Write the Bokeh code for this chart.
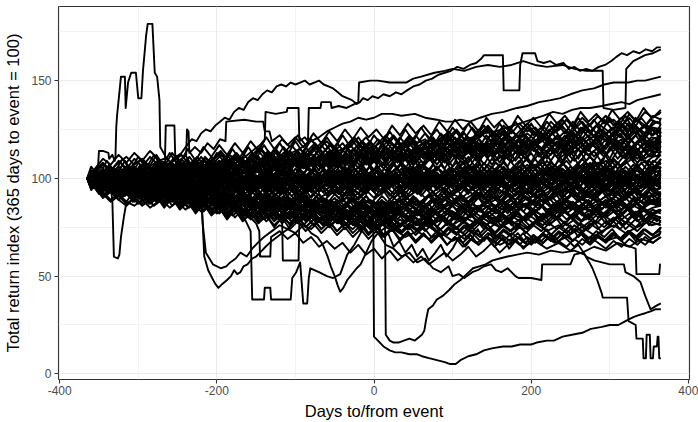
from bokeh.plotting import figure
from bokeh.models import Range1d, FixedTicker
from bokeh.embed import file_html
from bokeh.resources import INLINE

# x grids (days) for the bulk of the series, read every 10 days
band_days = list(range(-365, 366, 10))
band_days_b = [-365] + list(range(-360, 361, 10)) + [365]
band_days_c = [-365] + list(range(-357, 364, 10)) + [365]

x_ticks = [-400, -200, 0, 200, 400]
x_minor = [-300, -100, 100, 300]
y_ticks = [0, 50, 100, 150]
y_minor = [25, 75, 125, 175]

band_upper = [
    [100,105,110,107,112,108,113,109,114,110, 105,110,106,108,104,111,107,112,108,110, 106,113,109,114,110,116,111,115,112,117, 113,118,114,116,112,119,115,120,116,121, 117,122,118,120,116,123,119,124,120,126, 121,125,122,127,123,128,124,126,122,129, 125,130,126,131,127,132,128,130,126,133, 129,134,131,135],
    [100,104,108,104,109,105,110,106,111,107, 104,109,112,107,111,106,110,114,109,113, 108,112,116,111,115,110,113,109,114,118, 113,117,112,116,120,115,119,114,118,122, 117,121,116,119,115,120,124,119,123,118, 122,126,121,125,120,124,128,123,127,122, 126,130,125,129,124,128,132,127,131,126, 130,127,132,130],
    [100,103,107,104,108,111,107,110,106,109, 108,103,107,111,106,104,109,113,108,112, 107,111,115,110,108,113,117,112,110,115, 119,114,112,117,121,116,113,118,122,117, 115,120,118,123,119,116,121,125,120,118, 123,127,122,119,124,121,126,123,120,125, 129,124,121,126,123,128,125,122,127,131, 126,123,129,128],
    [100,98,103,100,97,102,106,101,99,104, 108,103,101,106,104,109,105,102,107,111, 106,104,109,113,108,105,110,107,112,116, 111,108,113,110,115,119,114,111,116,113, 118,115,112,117,121,116,113,118,115,120, 117,114,119,123,118,115,120,117,122,119, 116,121,125,120,117,122,119,124,121,118, 123,127,122,125],
    [100,102,99,104,100,97,101,105,102,98, 103,107,103,100,105,109,104,101,106,110, 105,102,107,104,109,113,108,105,110,107, 112,109,106,111,115,110,107,112,109,114, 111,108,113,117,112,109,114,111,116,113, 110,115,119,114,111,116,113,118,115,112, 117,121,116,113,118,115,120,117,114,119, 123,118,120,122],
    [100,97,101,98,102,105,100,103,99,102, 106,101,104,100,103,107,102,105,101,106, 109,104,107,103,108,111,106,109,105,110, 113,108,111,107,112,115,110,113,109,114, 110,113,117,112,115,111,116,119,114,117, 113,118,115,112,117,120,115,118,114,119, 116,113,118,121,116,119,115,120,117,114, 119,122,118,120],
    [100,101,104,99,102,98,103,100,104,101, 97,102,106,101,104,100,105,102,98,103, 107,102,105,101,106,103,108,105,101,106, 110,105,108,104,109,106,111,108,104,109, 113,108,111,107,112,109,114,111,107,112, 116,111,114,110,115,112,117,114,110,115, 119,114,117,113,118,115,112,117,120,115, 118,114,116,118],
    [100,99,102,97,100,103,99,104,101,98, 102,105,101,104,108,103,106,102,107,104, 100,105,109,104,107,103,108,111,106,109, 105,110,107,103,108,112,107,110,106,111, 108,104,109,113,108,111,107,112,109,105, 110,114,109,112,108,113,110,106,111,115, 110,113,109,114,111,107,112,116,111,114, 110,115,119,117],
]

band_middle = [
    [100,96,99,102,98,101,97,100,103,99, 102,98,103,100,96,101,104,100,103,99, 104,101,97,102,105,101,104,100,105,102, 98,103,107,102,105,101,106,103,99,104, 108,103,106,102,107,104,100,105,109,104, 107,103,108,105,101,106,110,105,108,104, 109,106,102,107,111,106,109,105,110,113, 108,112,116,115],
    [100,103,100,97,101,104,100,97,102,99, 95,100,103,99,102,98,94,99,102,98, 101,97,102,105,100,103,99,104,101,97, 102,106,101,104,100,105,102,98,103,107, 102,105,101,106,103,99,104,108,103,106, 102,107,104,100,105,109,104,107,103,108, 105,101,106,110,105,108,104,109,106,111, 115,110,114,113],
    [100,98,95,99,96,100,103,98,101,97, 100,96,99,103,98,101,97,102,99,95, 100,104,99,102,98,103,100,96,101,105, 100,103,99,104,101,97,102,106,101,104, 100,105,102,98,103,107,102,105,101,106, 103,99,104,108,103,106,102,107,104,100, 105,109,104,107,103,108,105,110,106,109, 113,108,111,112],
    [100,102,105,101,104,100,97,101,104,100, 103,99,96,100,104,99,102,98,101,105, 100,97,101,104,100,103,99,96,100,104, 99,102,98,101,105,100,103,99,96,101, 105,100,103,99,104,101,97,102,106,101, 104,100,105,102,98,103,107,102,105,101, 106,103,99,104,108,103,106,102,107,111, 106,109,105,110],
    [100,97,100,103,99,102,98,95,99,102, 98,101,97,94,98,102,97,100,96,99, 103,98,101,97,94,99,103,98,101,97, 100,104,99,102,98,95,100,104,99,102, 98,101,105,100,103,99,96,101,105,100, 103,99,102,106,101,104,100,97,102,106, 101,104,100,103,107,102,105,101,98,103, 107,102,105,108],
    [100,104,101,98,102,105,101,98,103,100, 97,101,104,100,97,102,99,103,100,96, 101,98,102,99,95,100,103,99,96,100, 104,99,102,98,101,105,100,97,102,99, 103,100,96,101,104,100,103,99,102,106, 101,98,103,100,104,101,97,102,105,101, 104,100,103,107,102,99,104,101,105,102, 106,103,109,107],
    [100,99,96,100,97,101,98,102,99,96, 100,97,93,98,101,97,100,96,99,95, 98,102,97,100,96,99,103,98,95,99, 96,100,104,99,96,100,97,101,98,102, 99,95,100,103,99,102,98,101,105,100, 97,101,98,102,99,103,100,96,101,104, 100,97,102,99,103,100,104,101,97,102, 105,101,104,106],
    [100,103,99,102,106,101,104,100,103,107, 102,99,103,100,104,101,97,102,105,100, 103,99,102,98,101,97,100,104,99,102, 98,101,97,100,96,99,103,98,101,97, 100,104,99,102,98,101,105,100,97,101, 98,102,99,95,100,103,99,102,98,101, 105,100,103,99,102,98,101,104,100,103, 99,102,106,105],
    [100,96,99,95,98,101,97,94,98,101, 97,100,96,99,102,98,95,99,102,98, 101,97,100,96,99,95,98,102,97,100, 96,99,103,98,101,97,100,104,99,102, 98,101,97,100,104,99,102,98,101,97, 100,104,99,102,98,101,105,100,103,99, 102,98,101,105,100,103,99,102,98,101, 104,100,103,104],
    [100,102,98,101,104,100,103,99,102,105, 101,98,102,105,100,103,99,96,100,103, 99,102,98,101,97,100,103,99,102,98, 95,99,102,98,101,97,100,96,99,102, 98,101,104,100,103,99,102,98,95,99, 102,98,101,104,100,103,99,102,98,101, 97,100,103,99,102,105,100,103,99,102, 98,101,104,103],
    [100,98,101,97,100,96,99,102,98,95, 99,96,100,97,94,98,95,99,96,100, 97,94,98,101,97,100,96,99,95,98, 102,97,100,96,99,103,98,101,97,100, 96,99,103,98,101,97,100,96,99,102, 98,101,97,100,104,99,102,98,101,97, 100,103,99,102,98,101,97,100,104,99, 102,98,101,102],
    [100,103,100,104,101,98,102,99,103,100, 104,101,97,101,98,102,99,95,99,102, 98,101,97,100,103,99,96,100,97,101, 104,99,102,98,101,97,100,104,99,96, 100,97,101,98,102,99,95,99,102,98, 101,97,100,96,99,103,98,101,97,100, 96,99,102,98,101,97,100,96,99,103, 98,101,97,101],
    [100,97,101,98,95,99,102,97,100,96, 99,103,98,101,97,94,98,101,97,100, 96,99,95,98,102,97,100,96,99,95, 98,101,97,100,96,93,97,100,96,99, 95,98,102,97,100,96,99,95,98,101, 97,100,96,99,95,98,102,97,100,96, 99,102,98,101,97,100,96,99,102,98, 101,97,99,100],
    [100,102,99,96,100,103,99,102,98,101, 97,100,96,99,103,98,101,97,100,96, 99,102,98,95,99,96,100,97,93,97, 100,96,99,95,98,101,97,100,96,99, 95,98,94,97,101,96,99,95,98,102, 97,100,96,99,95,98,101,97,100,96, 99,95,98,102,97,100,96,99,95,98, 101,97,100,99],
]

band_lower = [
    [100,96,99,95,98,94,97,100,96,93, 97,100,96,99,95,92,96,99,95,98, 94,97,93,96,100,95,98,94,97,93, 96,99,95,98,94,91,95,98,94,97, 93,96,100,95,98,94,97,93,96,99, 95,98,94,97,93,96,100,95,98,94, 97,93,96,100,95,98,94,97,101,96, 99,95,97,98],
    [100,98,94,97,100,96,99,95,92,96, 99,95,98,94,91,95,98,94,97,93, 90,94,97,93,96,92,95,91,94,98, 93,96,92,95,91,94,98,93,96,92, 95,91,94,97,93,96,92,95,99,94, 97,93,96,92,95,98,94,97,93,96, 92,95,99,94,97,93,96,92,95,98, 94,97,93,96],
    [100,103,99,96,100,97,94,98,101,97, 94,98,95,92,96,99,95,92,96,93, 97,93,90,94,97,93,96,92,89,93, 96,92,95,91,88,92,95,91,94,90, 93,97,92,95,91,94,90,93,96,92, 95,91,94,97,93,96,92,95,98,94, 97,93,96,92,95,98,94,97,93,96, 92,95,98,95],
    [100,97,100,96,93,97,100,96,93,97, 94,90,94,97,93,96,92,89,93,96, 92,95,91,88,92,95,91,94,90,87, 91,94,90,93,89,92,95,91,94,90, 87,91,94,90,93,89,92,88,91,95, 90,93,89,92,96,91,94,90,93,89, 92,95,91,94,90,93,97,92,95,91, 94,90,92,93],
    [100,98,95,99,96,93,97,94,91,95, 98,94,91,95,92,88,92,95,91,88, 92,89,85,89,92,88,85,89,86,82, 86,89,85,82,86,89,85,88,84,87, 91,86,89,85,88,92,87,90,86,89, 93,88,91,87,90,94,89,92,88,91, 95,90,93,89,92,96,91,94,90,93, 89,92,95,92],
    [100,101,97,100,96,99,95,98,94,97, 93,96,92,95,98,94,97,93,90,94, 97,93,96,92,89,93,96,92,95,91, 88,92,95,91,94,90,87,91,94,90, 93,89,86,90,93,89,92,88,85,89, 92,88,91,87,90,93,89,92,88,91, 87,90,93,89,92,88,91,87,90,93, 89,92,88,90],
    [100,97,94,98,95,92,96,93,90,94, 91,88,92,95,91,88,92,89,86,90, 87,84,88,91,87,84,88,85,82,86, 89,85,82,86,83,87,84,81,85,88, 84,87,83,86,90,85,88,84,87,83, 86,89,85,88,84,87,90,86,89,85, 88,84,87,90,86,89,85,88,84,87, 90,86,89,88],
    [100,99,96,100,97,94,98,95,99,96, 93,97,94,91,95,92,96,93,90,94, 91,88,92,89,86,90,87,91,88,85, 89,86,83,87,84,88,85,82,86,83, 87,84,81,85,82,86,83,80,84,87, 83,86,82,85,89,84,87,83,86,82, 85,88,84,87,83,86,89,85,88,84, 87,83,85,86],
    [100,97,99,95,92,96,93,97,94,91, 95,92,89,93,90,94,91,88,92,89, 86,90,87,84,88,85,89,86,83,87, 84,81,85,82,86,83,80,84,81,85, 82,79,83,80,84,81,78,82,85,81, 84,80,83,87,82,85,81,84,80,83, 86,82,85,81,84,80,83,86,82,85, 81,84,82,84],
    [100,103,99,102,98,95,99,96,93,97, 94,91,95,92,89,93,90,87,91,88, 92,89,86,90,87,84,88,85,82,86, 83,87,84,81,85,82,79,83,80,84, 81,78,82,79,83,80,77,81,78,82, 79,83,80,77,81,78,82,79,76,80, 83,79,82,78,81,85,80,83,79,82, 78,81,84,82],
    [100,95,90,93,89,86,90,87,91,88, 88,92,89,85,89,86,82,86,83,87, 84,80,84,81,85,82,78,82,79,83, 80,76,80,77,81,78,74,78,75,79, 76,80,77,73,77,74,78,75,71,75, 78,74,77,81,76,79,75,78,82,77, 80,76,79,75,78,82,77,80,76,79, 83,78,81,80],
    [100,99,95,98,94,97,93,90,94,91, 95,92,88,92,89,93,90,86,90,87, 91,88,84,88,85,89,86,82,86,83, 87,84,80,84,81,85,82,78,82,79, 83,80,76,80,77,81,78,74,78,75, 79,76,72,76,73,77,74,78,75,71, 75,72,76,73,77,74,78,75,79,76, 73,77,80,78],
    [100,95,91,94,89,92,88,91,87,90, 92,89,86,90,87,91,88,84,88,85, 81,85,82,86,83,79,83,80,84,81, 77,81,78,82,79,75,79,76,80,77, 73,77,74,78,75,71,75,72,76,73, 77,74,70,74,71,75,72,68,72,69, 73,70,74,71,67,71,68,72,69,73, 70,74,71,75],
    [100,96,92,88,91,87,90,86,89,92, 93,89,93,90,86,90,87,83,87,84, 88,85,81,85,82,78,82,79,83,80, 76,80,77,81,78,74,78,75,79,76, 72,76,73,77,74,70,74,71,75,72, 68,72,69,73,70,66,70,67,71,68, 72,69,65,69,66,70,67,71,68,72, 69,66,70,72],
    [100,97,93,89,92,88,86,89,85,88, 92,96,93,90,94,91,88,92,89,86, 90,87,84,88,85,82,86,83,80,84, 81,78,82,79,76,80,77,74,78,75, 72,76,73,77,74,71,75,72,69,73, 70,74,71,68,72,69,66,70,67,71, 68,65,69,66,70,67,64,68,65,69, 66,70,67,70],
]

# second set of bulk series, read on days -365, -360, -350, ..., 360, 365
band_core_a = [
    [100, 106,101,109,103,110,104,111,105,112,106, 113,107,112,105,111,106,113,108,115,109, 116,110,117,111,118,112,119,113,120,114, 121,115,122,116,121,115,122,117,124,118, 125,119,126,120,125,119,126,121,128,122, 127,121,128,122,129,123,128,122,129,124, 130,124,131,125,130,124,131,126,132,125, 131,126,129,128],
    [100, 95,102,97,104,99,106,100,107,101,108, 102,109,103,108,102,109,104,110,105,111, 106,112,107,113,108,114,109,113,108,115, 110,116,111,117,112,116,111,117,113,118, 114,119,115,120,116,121,115,120,116,122, 117,123,118,122,117,123,119,124,120,125, 119,124,120,126,121,125,120,126,122,127, 121,126,123,124],
    [100, 104,99,106,101,107,100,105,99,106,101, 108,102,107,100,106,101,108,103,109,102, 108,103,110,104,109,103,111,105,110,104, 112,106,111,105,113,107,112,106,114,108, 113,107,115,109,114,108,116,110,115,109, 117,111,116,110,118,112,117,111,119,113, 118,112,120,114,119,113,121,115,120,114, 122,116,120,121],
    [100, 97,103,98,105,99,104,98,106,100,105, 99,106,100,107,101,106,100,107,102,108, 101,107,102,109,103,108,102,110,104,109, 103,110,104,111,105,110,104,112,106,111, 105,112,106,113,107,112,106,114,108,113, 107,114,108,115,109,114,108,116,110,115, 109,116,110,117,111,116,110,118,112,117, 113,119,114,119],
    [100, 103,97,104,98,103,96,102,97,104,99, 105,98,104,99,106,100,105,99,107,101, 106,100,105,99,107,101,108,102,107,101, 109,103,108,102,110,104,109,103,111,105, 110,104,109,103,111,105,112,106,111,105, 113,107,112,106,114,108,113,107,112,106, 114,108,115,109,114,108,116,110,115,109, 117,111,114,116],
    [100, 96,102,95,101,97,103,96,102,98,104, 97,103,99,105,98,104,100,106,99,105, 101,107,100,106,102,108,101,107,103,109, 102,108,101,107,103,109,102,108,104,110, 103,109,105,111,104,110,103,109,105,111, 104,110,106,112,105,111,107,113,106,112, 108,114,107,113,109,115,108,114,110,116, 109,115,111,114],
    [100, 102,97,103,98,101,95,100,96,102,97, 103,98,102,96,101,97,103,98,104,99, 103,97,102,98,104,99,105,100,104,98, 103,99,105,100,106,101,105,99,104,100, 106,101,107,102,106,100,105,101,107,102, 108,103,107,101,106,102,108,103,109,104, 108,102,107,103,109,104,110,105,109,104, 111,106,110,112],
    [100, 95,101,96,100,94,99,95,101,96,102, 97,101,95,100,96,102,97,103,98,102, 96,101,97,103,98,104,99,103,97,102, 98,104,99,105,100,104,98,103,99,105, 100,106,101,105,99,104,100,106,101,107, 102,106,100,105,101,107,102,108,103,107, 101,106,102,108,103,109,104,108,102,107, 103,109,105,110],
    [100, 104,98,103,97,102,96,101,97,103,98, 102,96,101,95,100,96,102,97,101,95, 100,96,102,97,103,98,102,96,101,97, 103,98,104,99,103,97,102,98,104,99, 105,100,104,98,103,99,105,100,106,101, 105,99,104,100,106,101,107,102,106,100, 105,101,107,102,108,103,107,101,106,102, 108,103,106,108],
    [100, 97,102,96,101,95,100,94,99,95,101, 96,100,94,99,95,101,96,102,97,101, 95,100,96,102,97,101,95,100,96,102, 97,103,98,102,96,101,97,103,98,102, 96,101,97,103,98,104,99,103,97,102, 98,104,99,103,97,102,98,104,99,105, 100,104,98,103,99,105,100,104,98,103, 100,106,101,106],
    [100, 103,97,102,96,101,97,103,98,102,96, 101,95,100,96,102,97,101,95,100,94, 99,95,101,96,100,94,99,95,101,96, 102,97,101,95,100,96,102,97,103,98, 102,96,101,97,103,98,102,96,101,97, 103,98,104,99,103,97,102,98,104,99, 103,97,102,98,104,99,105,100,104,99, 103,100,106,105],
    [100, 96,101,95,100,96,102,97,101,95,100, 94,99,95,101,96,100,94,99,93,98, 94,100,95,99,93,98,94,100,95,101, 96,100,94,99,95,101,96,102,97,101, 95,100,96,102,97,101,95,100,96,102, 97,103,98,102,96,101,97,103,98,102, 96,101,97,103,98,104,99,103,97,102, 99,105,101,104],
]

band_core_b = [
    [100, 102,96,101,95,100,94,99,95,101,96, 100,94,99,95,101,96,100,94,99,93, 98,94,100,95,99,93,98,94,100,95, 101,96,100,94,99,95,101,96,102,97, 101,95,100,96,102,97,101,95,100,96, 102,97,101,95,100,96,102,97,103,98, 102,96,101,97,103,98,102,96,101,97, 103,98,101,103],
    [100, 97,103,98,102,96,101,95,100,96,102, 97,101,95,100,94,99,95,101,96,100, 94,99,93,98,94,100,95,99,93,98, 94,100,95,101,96,100,94,99,95,101, 96,100,94,99,95,101,96,102,97,101, 95,100,96,102,97,101,95,100,96,102, 97,101,95,100,96,102,97,103,98,102, 97,101,99,102],
    [100, 104,99,103,97,102,96,101,97,103,98, 102,96,101,95,100,94,99,95,101,96, 100,94,99,93,98,94,100,95,99,93, 98,92,97,93,99,94,98,92,97,93, 99,94,100,95,99,93,98,94,100,95, 101,96,100,94,99,95,101,96,100,94, 99,95,101,96,102,97,101,95,100,96, 101,97,99,100],
    [100, 96,101,95,99,93,98,94,100,95,99, 93,98,94,100,95,99,93,98,92,97, 93,99,94,98,92,97,93,99,94,98, 92,97,91,96,92,98,93,97,91,96, 92,98,93,99,94,98,92,97,93,99, 94,98,92,97,93,99,94,100,95,99, 93,98,94,100,95,99,93,98,94,100, 95,99,96,98],
    [100, 103,98,102,96,101,95,100,94,99,95, 100,94,99,93,98,94,99,93,97,92, 97,93,98,92,96,91,96,92,97,93, 98,92,97,91,96,92,97,93,98,92, 97,93,98,94,99,93,98,92,97,93, 98,94,99,93,98,92,97,93,99,94, 98,92,97,93,98,94,99,93,98,94, 99,95,97,97],
    [100, 95,100,94,98,92,97,93,98,92,96, 91,96,92,97,91,95,90,95,91,96, 90,95,91,96,92,97,91,96,90,95, 91,96,90,95,89,94,90,95,89,94, 90,95,91,96,90,95,91,96,92,97, 91,96,90,95,91,96,92,97,91,96, 92,97,91,96,92,97,93,98,92,97, 93,98,94,95],
    [100, 97,102,96,100,94,99,93,97,92,96, 91,96,90,95,91,96,90,94,89,94, 90,95,89,93,88,93,89,94,88,92, 87,92,88,93,87,91,86,91,87,92, 86,91,87,92,88,93,87,92,88,93, 89,94,88,93,89,94,90,95,89,94, 90,95,89,94,90,95,91,96,90,95, 91,95,92,93],
    [100, 94,99,93,97,91,96,92,97,91,95, 90,95,89,94,90,95,89,93,88,93, 87,92,88,93,87,91,86,91,87,92, 86,90,85,90,86,91,85,89,84,89, 85,90,86,91,85,90,86,91,87,92, 86,91,87,92,86,91,87,92,88,93, 87,92,88,93,89,94,88,93,89,94, 88,93,90,91],
    [100, 98,92,97,91,96,90,95,89,94,90, 95,89,93,88,93,87,92,88,93,87, 91,86,91,85,90,86,91,85,89,84, 89,85,90,84,88,83,88,84,89,83, 87,82,87,83,88,82,86,81,86,82, 87,83,88,82,87,83,88,84,89,83, 88,84,89,85,90,84,89,85,90,86, 91,87,88,89],
    [100, 95,100,93,98,92,96,90,95,89,94, 88,93,89,94,88,92,87,92,86,91, 87,92,86,90,85,90,84,89,85,90, 84,88,83,88,82,87,83,88,82,86, 81,86,82,87,81,85,80,85,81,86, 82,87,81,86,82,87,83,88,82,87, 83,88,84,89,83,88,84,89,85,90, 84,89,86,87],
    [100, 97,93,98,91,96,90,94,89,93,88, 92,87,92,86,91,85,90,86,91,85, 89,84,88,83,88,82,87,83,88,82, 86,81,85,80,85,81,86,80,84,79, 84,80,85,79,83,78,83,79,84,78, 82,77,82,78,83,79,84,78,83,79, 84,80,85,79,84,80,85,81,86,80, 85,81,83,84],
    [100, 96,101,94,99,92,97,91,95,89,94, 88,92,87,91,86,90,85,89,84,88, 83,88,82,87,81,86,80,85,81,86, 80,84,79,84,78,83,77,82,78,83, 77,81,76,81,75,80,76,81,75,79, 74,79,75,80,74,79,75,80,76,81, 75,80,76,81,77,82,76,81,77,82, 76,81,78,80],
]

# third set of bulk series, read on days -365, -357, -347, ..., 363, 365
band_edge_high = [
    [100, 104,99,107,102,109,103,110,105,112,106, 113,108,115,109,116,111,117,112,118,113, 119,114,121,115,120,116,122,117,123,118, 124,119,125,120,126,121,125,120,127,122, 128,123,127,122,129,124,130,125,129,124, 131,126,130,125,132,127,131,126,133,128, 132,127,134,129,133,128,135,130,134,129, 136,131,133,134],
    [100, 97,103,99,105,100,107,102,106,101,108, 103,109,104,110,105,111,106,112,107,113, 108,114,109,115,110,114,109,116,111,117, 112,118,113,119,114,118,113,120,115,121, 116,122,117,121,116,123,118,124,119,125, 120,124,119,126,121,127,122,126,121,128, 123,129,124,128,123,130,125,129,124,131, 126,130,128,131],
    [100, 103,98,105,100,104,99,106,101,108,102, 107,103,109,104,110,105,109,104,111,106, 112,107,113,108,112,107,114,109,115,110, 114,109,116,111,117,112,116,111,118,113, 119,114,118,113,120,115,121,116,120,115, 122,117,123,118,122,117,124,119,125,120, 124,119,126,121,127,122,126,121,128,123, 127,122,126,128],
    [100, 98,104,99,103,97,105,100,106,101,107, 102,106,101,108,103,109,104,108,103,110, 105,111,106,110,105,112,107,113,108,112, 107,114,109,115,110,114,109,116,111,117, 112,116,111,118,113,119,114,118,113,120, 115,121,116,120,115,122,117,123,118,122, 117,124,119,125,120,124,119,126,121,127, 122,125,124,126],
    [100, 102,106,101,105,99,104,100,107,102,106, 101,108,103,107,102,109,104,110,105,109, 104,111,106,110,105,112,107,113,108,112, 107,114,109,113,108,115,110,116,111,115, 110,117,112,116,111,118,113,119,114,118, 113,120,115,119,114,121,116,122,117,121, 116,123,118,122,117,124,119,125,120,124, 119,126,121,124],
    [100, 96,101,97,103,98,104,99,103,98,105, 100,106,101,105,100,107,102,108,103,107, 102,109,104,108,103,110,105,111,106,110, 105,112,107,111,106,113,108,114,109,113, 108,115,110,114,109,116,111,117,112,116, 111,118,113,117,112,119,114,120,115,119, 114,121,116,120,115,122,117,123,118,122, 117,121,120,122],
    [100, 103,99,104,100,106,101,105,100,107,102, 106,101,108,103,107,102,109,104,108,103, 110,105,109,104,111,106,110,105,112,107, 111,106,113,108,112,107,114,109,113,108, 115,110,114,109,116,111,115,110,117,112, 116,111,118,113,117,112,119,114,118,113, 120,115,119,114,121,116,120,115,122,117, 121,116,119,120],
    [100, 99,95,101,97,102,98,103,99,104,100, 105,101,106,102,105,101,107,103,108,104, 107,103,109,105,110,106,109,105,111,107, 112,108,111,107,113,109,114,110,113,109, 115,111,116,112,115,111,117,113,118,114, 117,113,119,115,120,116,119,115,121,117, 122,118,121,117,120,116,122,118,121,117, 120,116,119,118],
    [100, 104,100,106,102,105,101,107,103,106,102, 108,104,107,103,109,105,108,104,110,106, 109,105,111,107,110,106,112,108,111,107, 113,109,112,108,114,110,113,109,115,111, 114,110,116,112,115,111,117,113,116,112, 118,114,117,113,119,115,118,114,120,116, 119,115,118,114,120,116,119,115,117,113, 118,114,117,116],
    [100, 102,98,104,100,103,99,105,101,104,100, 106,102,105,101,107,103,106,102,108,104, 107,103,109,105,108,104,110,106,109,105, 111,107,110,106,112,108,111,107,113,109, 112,108,114,110,113,109,115,111,114,110, 116,112,115,111,114,110,116,112,115,111, 117,113,116,112,115,111,117,113,116,112, 114,111,115,113],
]

band_edge_low = [
    [100, 97,101,95,99,94,98,93,97,92,96, 91,95,90,94,89,93,88,92,89,93, 88,92,87,91,86,90,87,91,86,90, 85,89,86,90,85,89,84,88,85,89, 86,90,85,89,86,90,87,91,86,90, 87,91,88,92,87,91,88,92,89,93, 88,92,89,93,90,94,89,93,90,94, 91,95,91,92],
    [100, 98,94,99,93,97,92,96,91,95,90, 94,89,93,88,92,87,91,86,90,87, 91,86,90,85,89,84,88,85,89,84, 88,83,87,84,88,83,87,82,86,83, 87,84,88,83,87,84,88,85,89,84, 88,85,89,86,90,85,89,86,90,85, 89,86,90,87,91,86,90,87,91,88, 92,88,90,89],
    [100, 96,100,94,98,92,96,91,95,89,93, 88,92,87,91,85,89,84,88,83,87, 82,86,83,87,82,86,81,85,82,86, 81,85,80,84,81,85,80,84,79,83, 80,84,81,85,80,84,81,85,82,86, 81,85,82,86,83,87,82,86,83,87, 84,88,83,87,84,88,85,89,84,88, 85,89,87,86],
    [100, 99,95,98,93,97,91,95,90,94,88, 92,87,91,85,89,84,88,82,86,81, 85,80,84,81,85,79,83,78,82,79, 83,78,82,77,81,78,82,77,81,76, 80,77,81,76,80,77,81,78,82,77, 81,78,82,79,83,78,82,79,83,80, 84,79,83,80,84,81,85,80,84,81, 85,82,84,83],
    [100, 95,99,93,97,91,95,89,93,88,92, 86,90,85,89,83,87,82,86,80,84, 79,83,78,82,77,81,78,82,76,80, 75,79,76,80,74,78,75,79,73,77, 74,78,75,79,73,77,74,78,75,79, 76,80,75,79,76,80,77,81,76,80, 77,81,78,82,77,81,78,82,79,83, 78,82,80,80],
    [100, 97,93,96,91,95,89,93,88,91,86, 90,85,88,83,87,82,85,80,84,79, 82,78,81,76,80,77,81,75,79,74, 78,73,77,74,78,72,76,71,75,72, 76,71,75,70,74,71,75,72,76,71, 75,72,76,73,77,72,76,73,77,74, 78,73,77,74,78,75,79,74,78,75, 79,76,77,78],
    [100, 96,92,97,90,95,88,93,87,91,85, 90,84,88,82,87,81,85,79,84,78, 82,77,81,75,80,74,78,73,77,72, 76,71,75,70,74,69,73,70,74,68, 72,67,71,68,72,66,70,67,71,66, 70,67,71,68,72,67,71,68,72,69, 73,68,72,69,73,70,74,69,73,70, 74,71,73,75],
    [100, 98,94,97,92,96,90,94,89,93,87, 91,86,90,84,88,83,87,81,85,80, 84,79,83,78,82,76,80,75,79,74, 78,73,77,72,76,71,75,70,74,69, 73,68,72,67,71,66,70,65,69,66, 70,65,69,66,70,67,71,66,70,67, 71,68,72,67,71,68,72,69,73,68, 72,69,71,73],
    [100, 97,101,96,99,94,98,92,96,91,95, 90,93,88,92,86,90,85,89,83,87, 82,86,80,84,79,83,77,81,76,80, 75,79,74,78,73,77,74,78,75,79, 76,80,77,81,78,82,79,83,80,84, 81,85,82,86,83,87,82,86,83,87, 84,88,85,89,84,88,85,89,86,90, 87,91,87,88],
    [100, 102,97,100,95,99,93,97,92,96,90, 94,89,93,87,91,86,90,84,88,83, 87,82,86,81,85,80,84,79,83,78, 82,77,81,76,80,77,81,76,80,75, 79,76,80,77,81,76,80,77,81,78, 82,77,81,78,82,79,83,78,82,79, 83,80,84,79,83,80,84,81,85,80, 84,81,83,84],
]

# individual series as (day, value) pairs
spike_line = [(-365,100),(-360,104),(-355,102),(-351,107),(-350,114),(-345,114),(-338,113),(-337,110),(-333,112),(-330,109),(-329,111),(-328,126),(-327,132),(-322,152),(-317,152),(-316,136),(-313,149),(-309,154),(-303,154),(-300,141),(-296,141),(-294,155),(-290,173),(-288,179),(-282,179),(-279,154),(-276,152),(-273,140),(-272,116),(-265,111),(-255,106),(-245,110),(-235,105),(-225,109),(-215,104),(-205,108),(-195,103),(-185,107),(-175,111),(-165,106),(-155,110),(-145,105),(-135,109),(-125,113),(-115,108),(-105,112),(-95,107),(-85,111),(-75,106),(-65,110),(-55,114),(-45,109),(-35,113),(-25,108),(-15,112),(-5,116),(5,111),(15,115),(25,110),(35,114),(45,118),(55,113),(65,117),(75,112),(85,116),(95,120),(105,115),(115,119),(125,114),(135,118),(145,113),(155,117),(165,121),(175,116),(185,120),(195,115),(205,119),(215,123),(225,118),(235,122),(245,117),(255,121),(265,125),(275,120),(285,124),(295,119),(305,123),(315,127),(325,122),(335,126),(345,121),(355,125),(365,123)]

box_line = [(-365,100),(-355,103),(-345,99),(-335,104),(-325,101),(-315,106),(-305,102),(-295,107),(-285,104),(-275,109),(-266,110),(-265,127),(-254,127),(-253,112),(-247,109),(-239,112),(-238,125),(-236,124),(-235,113),(-228,116),(-220,113),(-212,118),(-204,115),(-196,120),(-189,119),(-188,129),(-165,130),(-150,129),(-141,129),(-139,124),(-133,124),(-130,119),(-120,122),(-110,117),(-100,121),(-90,116),(-80,120),(-70,115),(-60,119),(-50,114),(-40,118),(-30,113),(-20,117),(-10,121),(0,116),(15,120),(30,115),(45,119),(60,114),(75,118),(90,122),(105,117),(120,121),(135,116),(150,120),(165,124),(180,119),(195,123),(210,118),(225,122),(240,126),(255,121),(270,125),(285,120),(300,124),(315,128),(330,123),(345,127),(365,125)]

step_high_line = [(-365,100),(-350,98),(-335,102),(-320,99),(-305,104),(-290,101),(-275,106),(-260,103),(-245,108),(-230,105),(-215,110),(-200,107),(-185,112),(-170,109),(-155,114),(-145,117),(-139,120),(-138,134),(-125,133),(-111,134),(-110,136),(-96,136),(-95,119),(-88,121),(-84,119),(-83,136),(-68,136),(-67,139),(-55,139),(-54,136),(-45,137),(-35,136),(-25,138),(-20,139),(-19,149),(-5,150),(5,150),(20,149),(41,149),(50,151),(60,152),(77,154),(90,155),(100,156),(115,155),(130,157),(145,158),(160,157),(175,158),(190,160),(205,158),(220,157),(240,158),(255,156),(270,155),(291,155),(292,136),(305,135),(320,136),(321,156),(330,160),(345,163),(355,164),(365,166)]

top_line = [(-365,100),(-355,102),(-345,99),(-335,104),(-325,101),(-315,105),(-305,102),(-295,107),(-285,104),(-275,108),(-265,106),(-255,110),(-245,113),(-238,117),(-232,120),(-226,119),(-220,123),(-214,125),(-208,124),(-202,127),(-196,129),(-190,131),(-184,130),(-178,134),(-172,136),(-166,135),(-160,139),(-154,141),(-148,140),(-142,143),(-136,145),(-130,144),(-124,147),(-118,148),(-112,147),(-106,149),(-100,148),(-94,149),(-88,150),(-82,148),(-76,149),(-70,150),(-64,148),(-58,147),(-52,146),(-46,144),(-40,142),(-34,141),(-28,140),(-22,138),(-18,139),(-14,141),(-8,140),(-2,142),(5,141),(12,143),(20,142),(28,144),(35,143),(42,145),(50,147),(58,148),(66,150),(74,151),(82,153),(90,154),(98,155),(106,157),(114,156),(122,158),(130,159),(136,161),(140,163),(164,163),(165,145),(185,145),(186,158),(189,164),(205,164),(208,160),(216,159),(224,160),(232,158),(241,159),(248,156),(255,157),(262,155),(270,156),(278,155),(286,157),(294,158),(302,160),(308,162),(315,164),(322,163),(330,165),(338,164),(346,166),(354,165),(360,167),(365,167)]

second_line = [(-365,100),(-350,97),(-335,101),(-320,98),(-305,102),(-290,99),(-275,103),(-260,100),(-245,104),(-230,101),(-215,105),(-200,102),(-185,106),(-170,103),(-155,107),(-140,110),(-125,107),(-110,112),(-95,115),(-80,119),(-70,121),(-60,124),(-50,126),(-40,128),(-30,129),(-20,131),(-10,130),(0,131),(10,133),(23,133),(35,132),(52,133),(65,131),(80,130),(91,129),(100,129),(110,130),(122,129),(135,131),(150,133),(165,134),(182,136),(195,137),(210,139),(225,140),(237,141),(250,143),(265,145),(280,146),(293,148),(305,149),(315,149),(324,149),(335,150),(345,150),(355,151),(365,152)]

third_line = [(-365,100),(-345,104),(-325,100),(-305,105),(-285,101),(-265,106),(-245,102),(-225,107),(-205,103),(-185,108),(-165,104),(-145,109),(-125,105),(-105,110),(-85,106),(-65,111),(-45,107),(-25,112),(-5,108),(15,113),(35,109),(55,114),(75,111),(95,116),(110,119),(125,121),(140,123),(155,124),(170,126),(185,128),(200,130),(215,132),(228,134),(240,133),(252,135),(263,136),(275,136),(290,137),(302,138),(315,139),(325,138),(335,140),(345,141),(355,142),(365,143)]

early_drop_line = [(-365,100),(-360,97),(-355,99),(-350,94),(-345,96),(-340,92),(-335,95),(-333,89),(-331,60),(-326,59),(-324,61),(-322,70),(-318,81),(-315,88),(-310,91),(-300,87),(-290,90),(-280,86),(-270,89),(-260,85),(-250,88),(-240,84),(-230,87),(-220,83),(-210,86),(-200,82),(-190,85),(-180,81),(-170,84),(-160,80),(-150,83),(-140,79),(-130,82),(-120,85),(-110,81),(-100,84),(-90,80),(-80,83),(-70,86),(-60,82),(-50,85),(-40,81),(-30,84),(-20,87),(-10,83),(0,86),(20,82),(40,85),(60,81),(80,84),(100,87),(120,83),(140,86),(160,82),(180,85),(200,88),(220,84),(240,87),(260,83),(280,86),(300,89),(320,85),(340,88),(365,86)]

deepest_line = [(-365,100),(-355,97),(-345,100),(-335,96),(-325,99),(-315,95),(-305,98),(-295,94),(-285,97),(-275,93),(-265,96),(-255,92),(-245,95),(-235,91),(-225,94),(-215,90),(-205,93),(-195,89),(-185,92),(-175,88),(-165,91),(-155,87),(-145,90),(-135,86),(-125,89),(-115,85),(-105,88),(-95,84),(-85,87),(-75,83),(-65,86),(-55,82),(-45,85),(-35,81),(-25,84),(-15,80),(-5,83),(-1,82),(0,19),(5,17),(12,14),(20,12),(27,11),(35,11),(45,10),(55,10),(61,9),(70,8),(80,7),(90,6),(97,5),(104,5),(110,7),(120,9),(130,10),(140,12),(150,13),(164,14),(175,14),(186,15),(200,15),(207,16),(220,17),(229,17),(240,19),(252,20),(265,21),(276,23),(290,24),(300,25),(311,25),(320,27),(330,29),(337,30),(345,31),(352,32),(358,33),(365,33)]

recovery_line = [(-365,100),(-355,98),(-345,101),(-335,97),(-325,100),(-315,96),(-305,99),(-295,95),(-285,98),(-275,94),(-265,97),(-255,93),(-245,96),(-235,92),(-225,95),(-215,91),(-205,94),(-195,90),(-185,93),(-175,89),(-165,92),(-155,88),(-145,91),(-135,87),(-125,90),(-115,86),(-105,89),(-95,85),(-85,88),(-75,84),(-65,87),(-55,83),(-45,86),(-35,82),(-25,85),(-15,81),(-5,84),(5,80),(12,82),(14,80),(15,20),(20,17),(25,16),(31,16),(38,17),(45,18),(52,17),(61,20),(64,22),(66,27),(69,33),(75,35),(80,38),(88,40),(96,43),(103,46),(110,48),(118,51),(126,54),(134,55),(142,56),(151,58),(160,59),(170,60),(182,61),(195,62),(210,61),(225,63),(240,62),(255,63),(268,61),(274,57),(278,54),(284,48),(290,41),(291,39),(322,39),(324,27),(333,25),(334,18),(342,18),(343,8),(346,8),(347,20),(351,20),(352,8),(355,8),(356,14),(360,14),(361,19),(362,19),(363,8),(365,8)]

slide_line = [(-365,100),(-350,97),(-335,93),(-320,96),(-305,92),(-290,95),(-275,91),(-260,94),(-245,90),(-230,86),(-215,89),(-200,85),(-185,88),(-170,84),(-155,80),(-140,83),(-125,79),(-110,82),(-95,78),(-80,81),(-65,77),(-50,80),(-35,76),(-20,79),(-5,75),(10,71),(25,74),(40,70),(55,73),(70,69),(85,72),(100,68),(115,71),(130,67),(145,70),(160,66),(175,69),(190,65),(205,68),(220,64),(235,67),(250,63),(260,66),(270,60),(280,58),(290,57),(300,56),(318,56),(320,52),(330,50),(339,47),(345,40),(352,33),(356,34),(360,35),(365,36)]

plateau_line = [(-365,100),(-350,103),(-335,99),(-320,102),(-305,98),(-290,101),(-275,97),(-260,100),(-245,96),(-230,99),(-215,95),(-200,98),(-185,94),(-170,97),(-155,93),(-140,96),(-125,92),(-110,95),(-95,91),(-80,94),(-65,90),(-50,87),(-35,90),(-20,86),(-5,89),(10,85),(25,88),(40,84),(55,81),(70,84),(85,80),(100,83),(115,79),(130,82),(145,78),(160,75),(175,78),(190,74),(205,77),(220,73),(235,76),(250,72),(265,75),(280,71),(295,68),(310,70),(320,66),(333,64),(334,51),(363,51),(364,56),(365,56)]

mid_low_line = [(-365,100),(-355,103),(-345,99),(-335,102),(-325,98),(-315,101),(-305,97),(-295,100),(-285,96),(-275,99),(-265,95),(-255,98),(-245,94),(-235,97),(-225,93),(-215,96),(-205,92),(-195,95),(-185,91),(-175,94),(-165,90),(-155,93),(-145,89),(-135,92),(-125,88),(-115,91),(-105,87),(-95,90),(-85,86),(-75,89),(-65,85),(-55,88),(-45,84),(-35,80),(-25,83),(-15,79),(-5,76),(5,72),(15,66),(25,64),(35,60),(45,62),(55,57),(65,59),(75,54),(85,52),(95,55),(100,50),(108,51),(115,49),(125,52),(132,53),(140,55),(149,56),(155,53),(162,52),(170,54),(180,50),(184,49),(200,49),(213,48),(214,56),(230,56),(250,56),(255,61),(265,62),(280,65),(295,63),(310,67),(325,65),(340,69),(355,67),(365,70)]

dip_a_line = [(-365,100),(-355,97),(-345,100),(-335,96),(-325,99),(-315,95),(-305,98),(-295,94),(-285,97),(-275,93),(-265,96),(-255,92),(-245,89),(-235,91),(-225,87),(-219,84),(-218,77),(-216,60),(-211,53),(-206,49),(-202,46),(-198,44),(-193,46),(-187,48),(-182,50),(-178,53),(-174,51),(-170,52),(-166,55),(-161,56),(-155,59),(-150,60),(-145,62),(-138,65),(-130,68),(-120,71),(-110,74),(-100,72),(-90,76),(-80,74),(-70,78),(-60,76),(-50,80),(-40,78),(-30,82),(-20,80),(-10,84),(0,82),(15,86),(30,84),(45,88),(60,85),(75,89),(90,86),(105,90),(120,87),(135,91),(150,88),(165,92),(180,89),(195,93),(210,90),(225,94),(240,91),(255,95),(270,92),(285,96),(300,93),(315,97),(330,94),(345,98),(365,96)]

dip_b_line = [(-365,100),(-350,102),(-335,98),(-320,101),(-305,97),(-290,100),(-275,96),(-260,99),(-245,95),(-232,92),(-225,89),(-219,85),(-218,77),(-214,62),(-205,56),(-195,54),(-188,55),(-183,57),(-176,59),(-170,62),(-162,60),(-155,64),(-148,67),(-140,70),(-130,73),(-120,76),(-110,74),(-100,78),(-90,76),(-80,80),(-70,78),(-60,82),(-50,80),(-40,84),(-30,82),(-20,86),(-5,84),(10,88),(25,86),(40,90),(55,87),(70,91),(85,88),(100,92),(115,89),(130,93),(145,90),(160,94),(175,91),(190,95),(205,92),(220,96),(235,93),(250,97),(265,94),(280,98),(295,95),(310,99),(325,96),(340,100),(355,97),(365,99)]

step_deep_line = [(-365,100),(-350,98),(-335,101),(-320,97),(-305,100),(-290,96),(-275,99),(-260,95),(-245,98),(-230,94),(-215,97),(-200,93),(-190,90),(-180,86),(-170,82),(-163,78),(-157,73),(-155,38),(-140,38),(-139,44),(-132,44),(-131,38),(-106,38),(-104,49),(-99,52),(-94,57),(-90,36),(-85,36),(-83,49),(-81,54),(-70,52),(-60,50),(-52,49),(-43,51),(-34,61),(-25,66),(-17,72),(-8,78),(0,82),(15,79),(30,83),(45,80),(60,84),(75,81),(90,85),(105,82),(120,86),(135,83),(150,87),(165,84),(180,88),(195,85),(210,89),(225,86),(240,90),(255,87),(270,91),(285,88),(300,92),(315,89),(330,93),(345,90),(365,92)]

box_low_line = [(-365,100),(-355,102),(-345,98),(-335,101),(-325,97),(-315,100),(-305,96),(-295,99),(-285,95),(-275,98),(-265,94),(-255,97),(-245,93),(-235,96),(-225,92),(-215,88),(-205,91),(-195,87),(-185,90),(-175,86),(-165,89),(-155,85),(-145,82),(-135,84),(-125,80),(-117,81),(-116,58),(-96,58),(-95,79),(-88,76),(-80,72),(-72,70),(-65,66),(-59,60),(-55,55),(-50,50),(-46,45),(-43,42),(-39,44),(-34,48),(-28,51),(-22,54),(-17,56),(-10,62),(-3,68),(5,72),(15,75),(25,73),(35,77),(45,74),(55,78),(70,75),(85,79),(100,76),(115,80),(130,77),(145,81),(160,78),(175,82),(190,79),(205,83),(220,80),(235,84),(250,81),(265,85),(280,82),(295,86),(310,83),(325,87),(340,84),(355,88),(365,86)]

low_wander_line = [(-365,100),(-350,97),(-335,100),(-320,96),(-305,99),(-290,95),(-275,92),(-260,95),(-245,91),(-230,94),(-215,90),(-200,86),(-185,89),(-170,85),(-160,81),(-150,77),(-146,73),(-145,60),(-132,60),(-131,70),(-120,73),(-110,69),(-100,72),(-90,67),(-80,70),(-70,65),(-60,68),(-50,64),(-40,67),(-30,62),(-20,66),(-10,61),(0,64),(10,59),(20,63),(30,58),(40,61),(50,57),(60,60),(70,56),(80,59),(90,62),(100,58),(110,61),(120,65),(130,60),(140,63),(150,67),(160,62),(170,66),(180,69),(190,64),(200,68),(215,71),(230,67),(245,70),(260,74),(275,69),(290,73),(305,76),(320,72),(335,75),(350,78),(365,76)]

low_jag_line = [(-365,100),(-345,96),(-325,99),(-305,94),(-285,97),(-265,92),(-245,95),(-225,90),(-205,93),(-185,88),(-165,91),(-145,86),(-125,89),(-105,84),(-85,87),(-65,82),(-45,85),(-25,79),(-15,82),(-5,76),(5,79),(10,70),(18,72),(25,65),(32,68),(40,62),(48,66),(55,60),(62,64),(70,58),(78,62),(85,66),(92,60),(100,64),(108,70),(116,65),(124,69),(132,74),(140,68),(148,72),(156,66),(164,70),(172,64),(180,68),(190,72),(200,66),(210,70),(220,74),(230,68),(240,72),(250,76),(260,70),(270,74),(280,78),(290,72),(300,76),(310,80),(320,74),(330,78),(340,82),(350,76),(358,80),(365,78)]

single_lines = [spike_line, box_line, step_high_line, top_line, second_line, third_line,
                early_drop_line, deepest_line, recovery_line, slide_line, plateau_line,
                mid_low_line, dip_a_line, dip_b_line, step_deep_line, box_low_line,
                low_wander_line, low_jag_line]

FONT = "Liberation Sans"

p = figure(width=698, height=422,
           x_range=Range1d(-401.5, 401.5), y_range=Range1d(-2.9, 187.9),
           output_backend="svg", toolbar_location=None,
           min_border_left=58, min_border_right=9, min_border_top=6, min_border_bottom=43)
p.background_fill_color = "white"
p.border_fill_color = "white"
p.outline_line_color = "#333333"
p.outline_line_width = 1.1

p.xaxis.ticker = FixedTicker(ticks=x_ticks, minor_ticks=x_minor)
p.yaxis.ticker = FixedTicker(ticks=y_ticks, minor_ticks=y_minor)
p.xaxis.major_label_overrides = {t: str(t) for t in x_ticks}
p.yaxis.major_label_overrides = {t: str(t) for t in y_ticks}
p.xaxis.axis_label = "Days to/from event"
p.yaxis.axis_label = "Total return index (365 days to event = 100)"
for ax in (p.xaxis[0], p.yaxis[0]):
    ax.axis_line_color = None
    ax.major_tick_line_color = "#333333"
    ax.major_tick_line_width = 1.1
    ax.major_tick_out = 4
    ax.major_tick_in = 0
    ax.minor_tick_line_color = None
    ax.major_label_text_font = FONT
    ax.major_label_text_font_size = "12px"
    ax.major_label_text_color = "#4D4D4D"
    ax.axis_label_text_font = FONT
    ax.axis_label_text_font_size = "16.5px"
    ax.axis_label_text_font_style = "normal"
    ax.axis_label_text_color = "black"
p.xaxis.major_label_standoff = 2
p.xaxis.axis_label_standoff = 4
p.yaxis.major_label_standoff = 3
p.yaxis.axis_label_standoff = 6

for g in (p.xgrid[0], p.ygrid[0]):
    g.grid_line_color = "#EBEBEB"
    g.grid_line_width = 1.1
    g.minor_grid_line_color = "#EBEBEB"
    g.minor_grid_line_width = 0.6

xs, ys = [], []
for grid, groups in ((band_days, (band_upper, band_middle, band_lower)),
                     (band_days_b, (band_core_a, band_core_b)),
                     (band_days_c, (band_edge_high, band_edge_low))):
    for group in groups:
        for vals in group:
            pts = list(zip(grid, vals))
            xs.append([d for d, _ in pts])
            ys.append([v for _, v in pts])
for series in single_lines:
    xs.append([d for d, _ in series])
    ys.append([v for _, v in series])

p.multi_line(xs=xs, ys=ys, line_color="black", line_width=1.9, line_join="round")

open("out.html", "w").write(file_html(p, INLINE))
